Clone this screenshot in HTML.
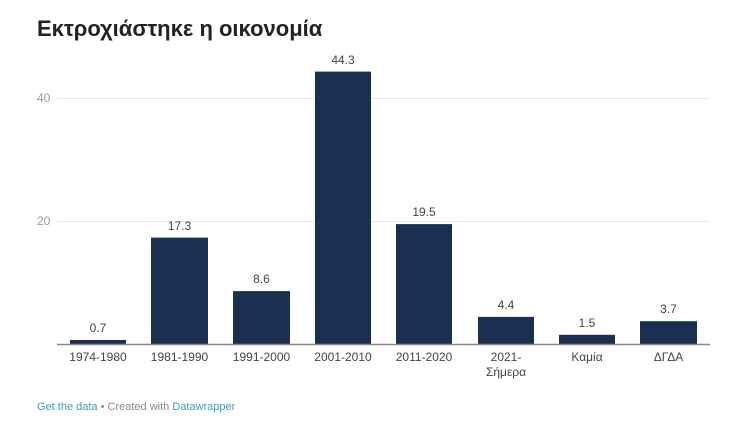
<!DOCTYPE html>
<html><head><meta charset="utf-8"><style>
body{margin:0;background:#fff;width:734px;height:429px;overflow:hidden;font-family:"Liberation Sans",sans-serif}
</style></head><body>
<svg width="734" height="429" xmlns="http://www.w3.org/2000/svg" font-family="Liberation Sans, sans-serif">
<text x="37" y="36" font-size="22" font-weight="bold" fill="#222">Εκτροχιάστηκε η οικονομία</text>
<g stroke="#e6e6e6" stroke-width="1">
<line x1="57" y1="98.5" x2="710" y2="98.5"/><line x1="57" y1="221.5" x2="710" y2="221.5"/>
</g>
<g font-size="12" fill="#999"><text x="37" y="102">40</text><text x="37" y="225">20</text></g>
<g fill="#1b2f50">
<rect x="70" y="340" width="56" height="4.3"/>
<rect x="151" y="237.6" width="57" height="106.4"/>
<rect x="233" y="291.1" width="57" height="52.9"/>
<rect x="315" y="71.6" width="56" height="272.4"/>
<rect x="396" y="224.1" width="56" height="119.9"/>
<rect x="478" y="316.9" width="56" height="27.1"/>
<rect x="559" y="334.8" width="56" height="9.2"/>
<rect x="640" y="321.2" width="57" height="22.8"/>
</g>
<line x1="57" y1="344.5" x2="710" y2="344.5" stroke="#888" stroke-width="1.5"/>
<g font-size="12" fill="#444" text-anchor="middle">
<text x="98" y="332">0.7</text><text x="179.5" y="230">17.3</text><text x="261.5" y="283">8.6</text>
<text x="343" y="64">44.3</text><text x="424" y="216">19.5</text><text x="506" y="309">4.4</text>
<text x="587" y="327">1.5</text><text x="668.5" y="313">3.7</text>
<text x="98" y="361">1974-1980</text><text x="179.5" y="361">1981-1990</text><text x="261.5" y="361">1991-2000</text>
<text x="343" y="361">2001-2010</text><text x="424" y="361">2011-2020</text><text x="506" y="361">2021-</text>
<text x="506" y="376">Σήμερα</text><text x="587" y="361">Καμία</text><text x="668.5" y="361">ΔΓΔΑ</text>
</g>
<text x="37" y="410" font-size="11"><tspan fill="#3a9bc4">Get the data</tspan><tspan fill="#888"> • Created with </tspan><tspan fill="#3a9bc4">Datawrapper</tspan></text>
</svg>
</body></html>
